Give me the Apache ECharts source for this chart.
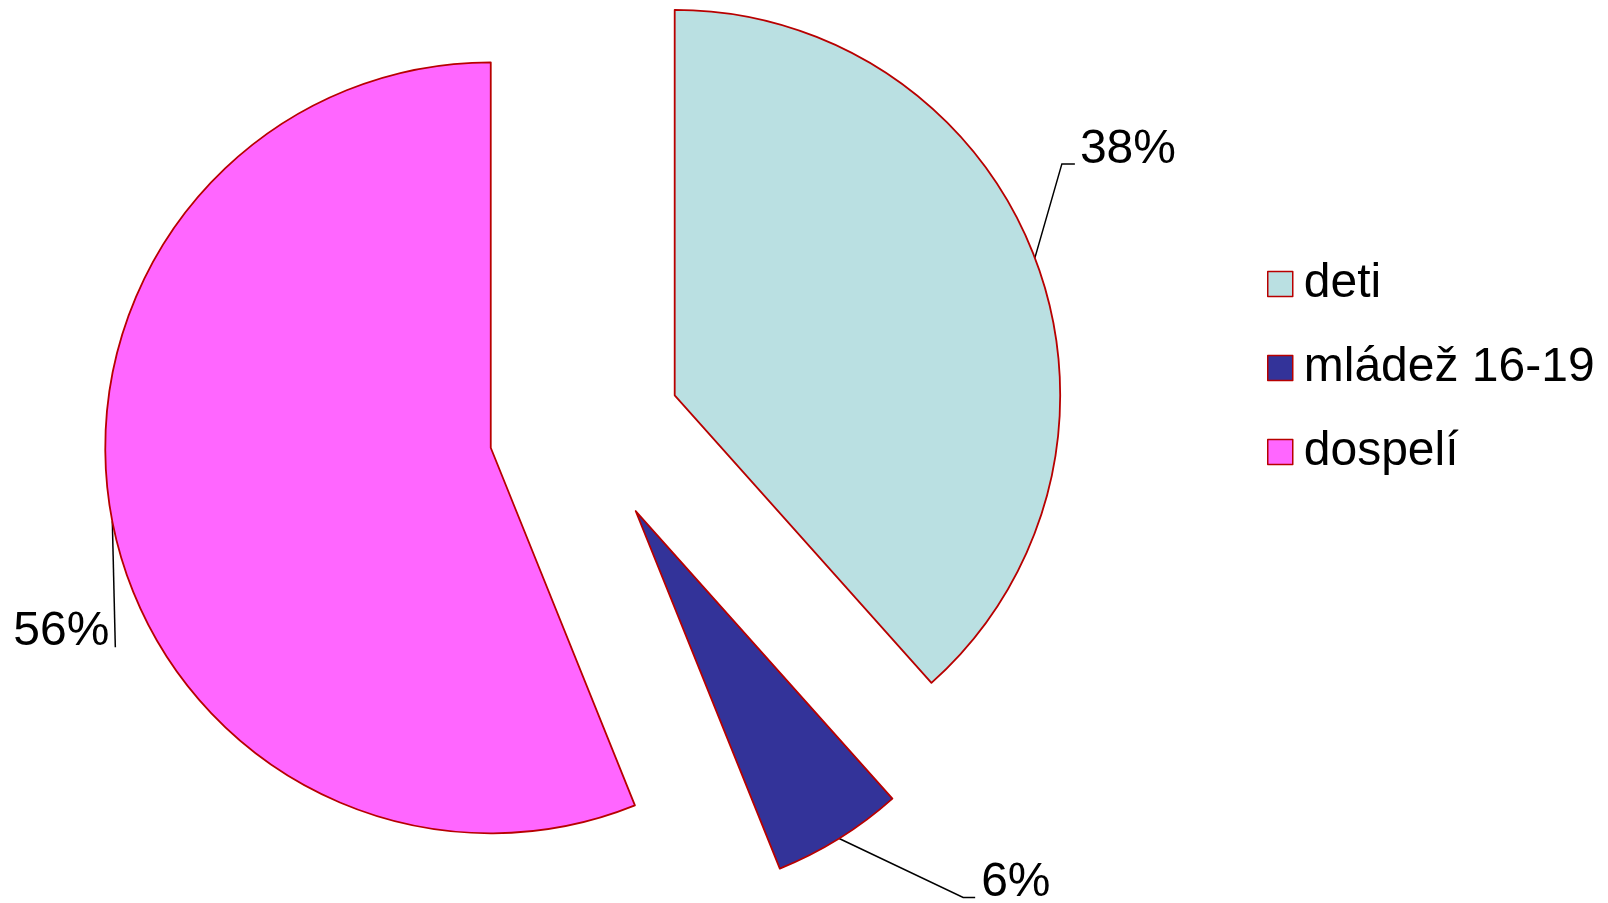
<!DOCTYPE html>
<html>
<head>
<meta charset="utf-8">
<script src="https://cdn.jsdelivr.net/npm/echarts@6/dist/echarts.min.js"></script>
<style>
html,body{margin:0;padding:0;background:#fff;}
#chart{width:1608px;height:903px;}
</style>
</head>
<body>
<div id="chart"></div>
<script>
const categories = ['deti', 'mládež 16-19', 'dospelí'];
const values = [38.4, 5.5, 56.1];
const colors = ['#BAE0E2', '#333399', '#FF66FF'];

// label placement relative to the slice's outer anchor point:
// [bendDx, bendDy, endDx, endDy, textDx, textDy, align]
const labelOffsets = [
  [27, -94, 40, -94, 45, -108, 'left'],
  [124, 59, 136, 59, 142, 44, 'left'],
  [3, 126, 3, 126, -3, 111, 'right']
];

const chart = echarts.init(document.getElementById('chart'));
const data = categories.map((c, i) => ({
  name: c,
  value: values[i],
  selected: true,
  itemStyle: { color: colors[i] }
}));

chart.setOption({
  animation: false,
  backgroundColor: '#ffffff',
  legend: {
    orient: 'vertical',
    left: 1262,
    top: 255,
    itemWidth: 25,
    itemHeight: 25,
    itemGap: 36,
    icon: 'rect',
    selectedMode: false,
    itemStyle: { borderColor: '#B80000', borderWidth: 1.5 },
    textStyle: { fontFamily: 'Liberation Sans, Arial, sans-serif', fontSize: 48, color: '#000', lineHeight: 48, padding: [0, 0, 0, 6] },
    data: categories
  },
  series: [{
    type: 'pie',
    center: [585, 429.5],
    radius: 385.5,
    startAngle: 90,
    clockwise: true,
    selectedMode: 'multiple',
    selectedOffset: 96,
    percentPrecision: 0,
    avoidLabelOverlap: false,
    itemStyle: { borderColor: '#B80000', borderWidth: 1.8 },
    emphasis: { disabled: true },
    label: {
      show: true,
      position: 'outside',
      formatter: '{d}%',
      fontFamily: 'Liberation Sans, Arial, sans-serif',
      fontSize: 48,
      color: '#000'
    },
    labelLine: {
      show: true,
      length: 20,
      length2: 10,
      lineStyle: { color: '#000', width: 1.5 }
    },
    labelLayout: function (p) {
      const pts = p.labelLinePoints;
      if (!pts) return {};
      const a = pts[0];
      const o = labelOffsets[p.dataIndex];
      const r = p.labelRect;
      const tx = a[0] + o[4];
      const ty = a[1] + o[5];
      const curX = o[6] === 'left' ? r.x : r.x + r.width;
      const curY = r.y + r.height / 2;
      return {
        dx: tx - curX,
        dy: ty - curY,
        labelLinePoints: [[a[0], a[1]], [a[0] + o[0], a[1] + o[1]], [a[0] + o[2], a[1] + o[3]]]
      };
    },
    data: data
  }]
});
</script>
</body>
</html>
